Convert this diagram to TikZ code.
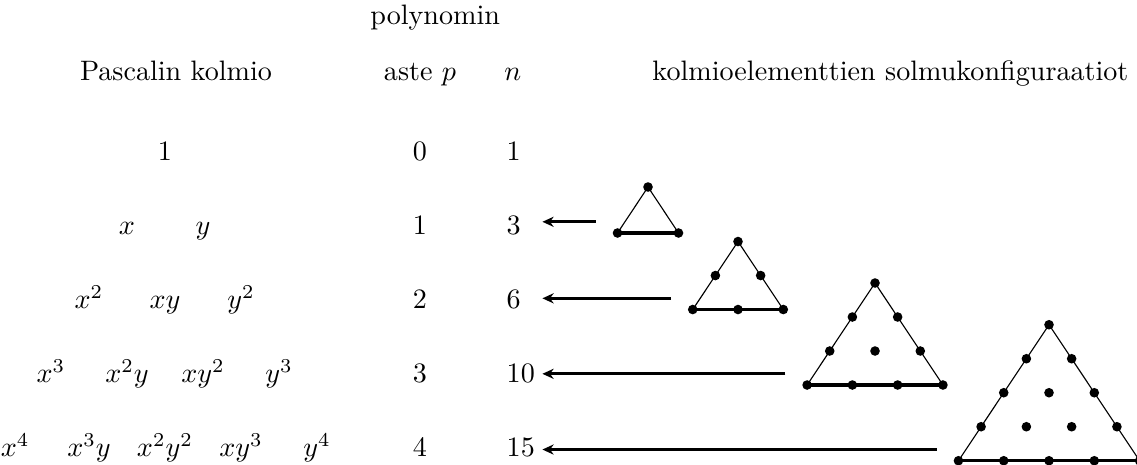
\documentclass[tikz,border=0pt]{standalone}
\usepackage{amsmath}
\usetikzlibrary{arrows.meta, calc}
\tikzset{
  solmu/.style={circle, fill=black, inner sep=0pt, minimum size=0.12cm},
  sivu/.style={line width=0.4pt},
  kanta/.style={line width=1.1pt},
  nuoli/.style={line width=1.1pt, -{Stealth[length=4pt,width=3.6pt]}},
  termi/.style={anchor=base},
  luku/.style={anchor=base west}
}

\begin{document}
\begin{tikzpicture}
    \useasboundingbox (0,0) rectangle (14.2125,-5.8);

    % Otsikot
    \node[termi] (otsP) at (2.2,-1.01) {Pascalin kolmio};
    \node[termi] (otsA1) at (5.44,-0.30) {polynomin};
    \node[termi] (otsA2) at (5.25,-1.01) {aste $p$};
    \node[termi] (otsN) at (6.41,-1.01) {$n$};
    \node[termi] (otsK) at (11.13,-1.01) {kolmioelementtien solmukonfiguraatiot};

    % Pascalin kolmio
    \node[termi] (r0a) at (2.0625,-2.01) {$1$};
    \node[termi] (r1a) at (1.5875,-2.935) {$x$};
    \node[termi] (r1b) at (2.5375,-2.935) {$y$};
    \node[termi] (r2a) at (1.1125,-3.86) {$x^2$};
    \node[termi] (r2b) at (2.0625,-3.86) {$xy$};
    \node[termi] (r2c) at (3.0125,-3.86) {$y^2$};
    \node[termi] (r3a) at (0.6375,-4.785) {$x^3$};
    \node[termi] (r3b) at (1.5875,-4.785) {$x^2y$};
    \node[termi] (r3c) at (2.5375,-4.785) {$xy^2$};
    \node[termi] (r3d) at (3.4875,-4.785) {$y^3$};
    \node[termi] (r4a) at (0.1900,-5.71) {$x^4$};
    \node[termi] (r4b) at (1.1125,-5.71) {$x^3y$};
    \node[termi] (r4c) at (2.0625,-5.71) {$x^2y^2$};
    \node[termi] (r4d) at (3.0125,-5.71) {$xy^3$};
    \node[termi] (r4e) at (3.9625,-5.71) {$y^4$};

    % Aste p ja solmujen lukumaara n
    \node[termi] (p0) at (5.25,-2.01) {$0$};
    \node[termi] (p1) at (5.25,-2.935) {$1$};
    \node[termi] (p2) at (5.25,-3.86) {$2$};
    \node[termi] (p3) at (5.25,-4.785) {$3$};
    \node[termi] (p4) at (5.25,-5.71) {$4$};
    \node[luku] (n0) at (6.21,-2.01) {$1$};
    \node[luku] (n1) at (6.21,-2.935) {$3$};
    \node[luku] (n2) at (6.21,-3.86) {$6$};
    \node[luku] (n3) at (6.21,-4.785) {$10$};
    \node[luku] (n4) at (6.21,-5.71) {$15$};
    \coordinate (karki) at (6.78,0);

    % Kolmioelementit
    \foreach \nimi/\ax/\ay/\dx/\dy/\n in {t1/8.1/-2.3375/0.7625/0.575/1,
        t2/9.225/-3.019/0.566/0.425/2, t3/10.9375/-3.5375/0.566/0.425/3,
        t4/13.1125/-4.059/0.566/0.425/4}{
      \coordinate (\nimi-k) at (\ax,\ay);
      \coordinate (\nimi-v) at ({\ax-\n*\dx/2},{\ay-\n*\dy});
      \coordinate (\nimi-o) at ({\ax+\n*\dx/2},{\ay-\n*\dy});
      \draw[sivu] (\nimi-v) -- (\nimi-k) -- (\nimi-o);
      \draw[kanta] (\nimi-v) -- (\nimi-o);
      \foreach \i in {0,...,\n}{
        \foreach \j in {0,...,\i}{
          \node[solmu] (\nimi-\i-\j) at ({\ax+(\j-\i/2)*\dx},{\ay-\i*\dy}) {};
        }
      }
      % nuoli kohti lukua n
      \coordinate (\nimi-a) at ($(\nimi-v)+(-0.27,0.14)$);
      \draw[nuoli] (\nimi-a) -- (\nimi-a -| karki);
    }
\end{tikzpicture}
\end{document}
